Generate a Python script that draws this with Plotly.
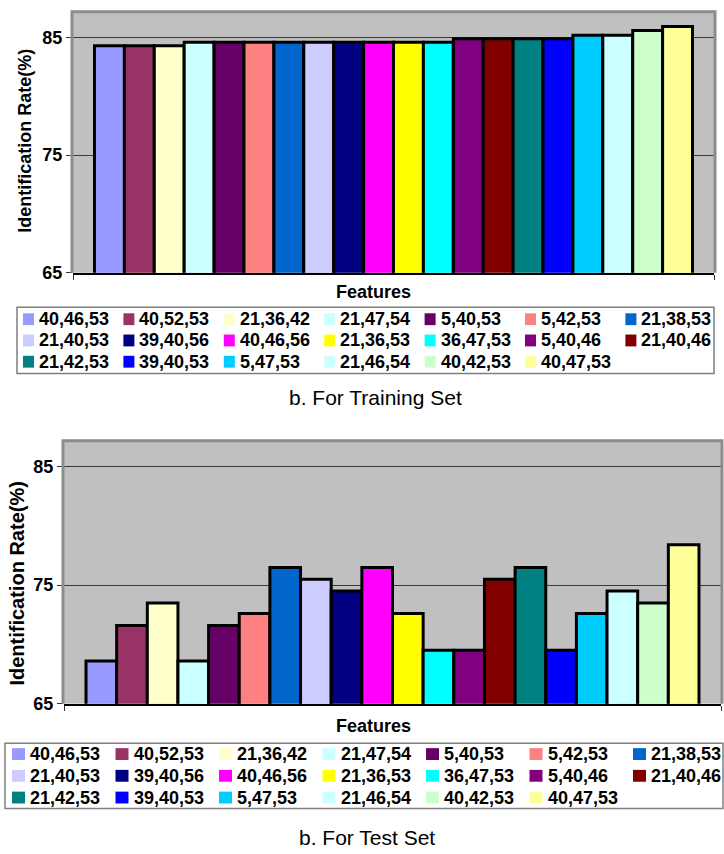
import plotly.graph_objects as go

# ---------------- data ----------------
features = ["40,46,53", "40,52,53", "21,36,42", "21,47,54", "5,40,53", "5,42,53", "21,38,53",
            "21,40,53", "39,40,56", "40,46,56", "21,36,53", "36,47,53", "5,40,46", "21,40,46",
            "21,42,53", "39,40,53", "5,47,53", "21,46,54", "40,42,53", "40,47,53"]
colors = ["#9999FF", "#993366", "#FFFFCC", "#CCFFFF", "#660066", "#FF8080", "#0066CC",
          "#CCCCFF", "#000080", "#FF00FF", "#FFFF00", "#00FFFF", "#800080", "#800000",
          "#008080", "#0000FF", "#00CCFF", "#CCFFFF", "#CCFFCC", "#FFFF99"]
train_rate = [84.3, 84.3, 84.3, 84.6, 84.6, 84.6, 84.6, 84.6, 84.6, 84.6,
              84.6, 84.6, 84.9, 84.9, 84.9, 84.9, 85.2, 85.2, 85.6, 85.95]
test_rate = [68.6, 71.6, 73.5, 68.6, 71.6, 72.6, 76.5, 75.5, 74.5, 76.5,
             72.6, 69.5, 69.5, 75.5, 76.5, 69.5, 72.6, 74.5, 73.5, 78.4]
y_ticks = [65, 75, 85]
y_range = [65, 87.1]
x_title = "Features"
y_title = "Identification Rate(%)"
captions = ["b. For Training Set", "b. For Test Set"]

# ---------------- layout geometry (pixels) ----------------
W, H = 724, 854
FONT = "Liberation Sans, Arial, sans-serif"


def fx(x):
    return x / W


def fy(y):
    return 1 - y / H


panels = [
    dict(values=train_rate, caption=captions[0], plot=(73, 13, 714, 276),
         ytitle_xy=(25, 142.5), ytitle_size=18, xtitle_xy=(373, 295),
         caption_xy=(375, 402), legend_box=(17, 311, 714, 378),
         leg_x0=23, leg_dx=100.4, leg_rows=(323, 344.5, 366), sw=(11, 12)),
    dict(values=test_rate, caption=captions[1], plot=(64, 447, 721, 712),
         ytitle_xy=(17.5, 591), ytitle_size=20, xtitle_xy=(373.5, 735),
         caption_xy=(367, 847), legend_box=(5, 752, 723, 818),
         leg_x0=12, leg_dx=103.5, leg_rows=(763, 785, 807), sw=(13, 12)),
]

fig = go.Figure()
shapes = []
annotations = []
layout_axes = {}

for p_i, p in enumerate(panels):
    sfx = "" if p_i == 0 else str(p_i + 1)
    xa, ya = "x" + sfx, "y" + sfx
    for name, col, val in zip(features, colors, p["values"]):
        fig.add_trace(go.Bar(
            x=[0], y=[val], name=name, xaxis=xa, yaxis=ya, showlegend=False,
            marker=dict(color=col, line=dict(color="black", width=3)),
        ))
    x0, y0, x1, y1 = p["plot"]
    layout_axes["xaxis" + sfx] = dict(
        domain=[fx(x0), fx(x1)], range=[-0.5, 0.5], anchor=ya,
        showticklabels=False, tickvals=[-0.5, 0.5], ticks="outside", ticklen=5,
        tickcolor="#333", showgrid=False, zeroline=False,
        showline=True, linecolor="black", linewidth=2, fixedrange=True)
    layout_axes["yaxis" + sfx] = dict(
        domain=[fy(y1), fy(y0)], range=y_range, anchor=xa,
        tickvals=y_ticks, ticks="outside", ticklen=6, tickcolor="#333",
        tickfont=dict(family=FONT, size=18, color="black", weight="bold"),
        showgrid=True, gridcolor="#3a3a3a", gridwidth=1,
        zeroline=False, showline=False, fixedrange=True)
    # gray frame of plot area (left, top, right)
    shapes.append(dict(
        type="path", xref="paper", yref="paper", layer="above",
        path=f"M {fx(x0 - 1)},{fy(y1)} L {fx(x0 - 1)},{fy(y0 - 1)} "
             f"L {fx(x1 + 1)},{fy(y0 - 1)} L {fx(x1 + 1)},{fy(y1)}",
        line=dict(color="#8C8C8C", width=3)))
    # axis titles
    annotations.append(dict(
        text=y_title, xref="paper", yref="paper", x=fx(p["ytitle_xy"][0]),
        y=fy(p["ytitle_xy"][1]), textangle=-90, showarrow=False,
        xanchor="center", yanchor="middle",
        font=dict(family=FONT, size=p["ytitle_size"], color="black", weight="bold")))
    annotations.append(dict(
        text=x_title, xref="paper", yref="paper", x=fx(p["xtitle_xy"][0]),
        y=fy(p["xtitle_xy"][1]), showarrow=False, xanchor="center", yanchor="middle",
        font=dict(family=FONT, size=18, color="black", weight="bold")))
    annotations.append(dict(
        text=p["caption"], xref="paper", yref="paper", x=fx(p["caption_xy"][0]),
        y=fy(p["caption_xy"][1]), showarrow=False, xanchor="center", yanchor="middle",
        font=dict(family=FONT, size=21, color="black")))
    # legend box
    lx0, ly0, lx1, ly1 = p["legend_box"]
    shapes.append(dict(type="rect", xref="paper", yref="paper",
                       x0=fx(lx0), x1=fx(lx1), y0=fy(ly1), y1=fy(ly0),
                       line=dict(color="#7F7F7F", width=1.5), fillcolor="white", layer="below"))
    sw_w, sw_h = p["sw"]
    for k, (name, col) in enumerate(zip(features, colors)):
        r, c = divmod(k, 7)
        sx = p["leg_x0"] + p["leg_dx"] * c
        sy = p["leg_rows"][r]
        shapes.append(dict(type="rect", xref="paper", yref="paper",
                           x0=fx(sx), x1=fx(sx + sw_w), y0=fy(sy + sw_h / 2), y1=fy(sy - sw_h / 2),
                           line=dict(width=0), fillcolor=col, layer="above"))
        annotations.append(dict(
            text=name, xref="paper", yref="paper", x=fx(sx + sw_w + 3), y=fy(sy),
            showarrow=False, xanchor="left", yanchor="middle",
            font=dict(family=FONT, size=18, color="black", weight="bold")))

fig.update_layout(
    width=W, height=H, autosize=False,
    margin=dict(l=0, r=0, t=0, b=0, pad=0),
    paper_bgcolor="white", plot_bgcolor="#C0C0C0",
    barmode="group", bargap=0.067, bargroupgap=0,
    showlegend=False, shapes=shapes, annotations=annotations,
    **layout_axes,
)

fig.write_html("out.html")
